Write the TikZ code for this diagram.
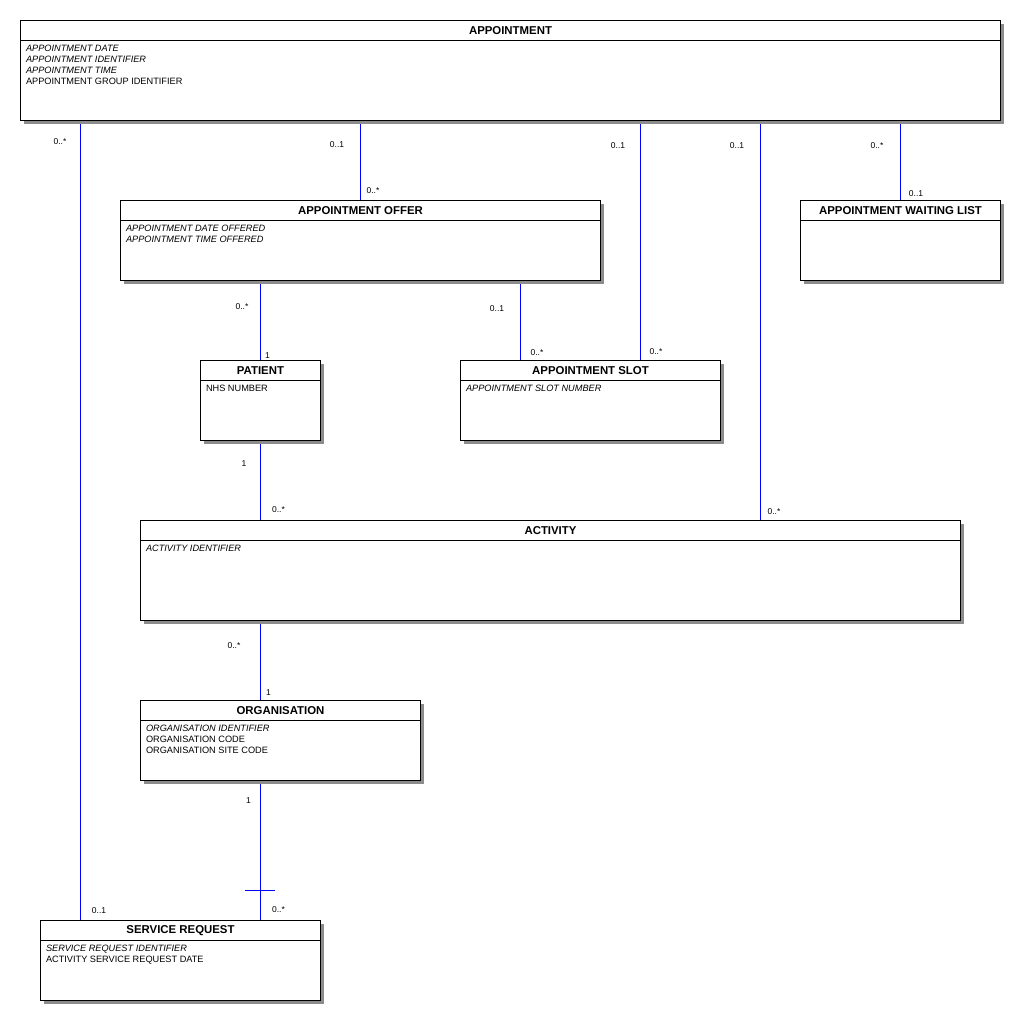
\documentclass[tikz,border=0pt]{standalone}
\usepackage{fontspec}
\setmainfont{Liberation Sans}
\usetikzlibrary{positioning,shadows,backgrounds}

\begin{document}
\begin{tikzpicture}
  [
    x=1pt,
    y=-1pt,
    line width=1pt,
    entity/.style={draw, fill=white, anchor=north west, inner sep=0pt,
      drop shadow={shadow xshift=3pt, shadow yshift=-3pt, fill=black!45, opacity=1}},
    title/.style={anchor=north, minimum height=20pt, inner sep=0pt, font=\fontsize{11.4}{13}\selectfont\bfseries},
    attr/.style={anchor=north west, inner sep=0pt, align=left, font=\fontsize{9.2}{11}\selectfont},
    mult/.style={inner sep=0pt, font=\fontsize{8.5}{10}\selectfont},
    assoc/.style={draw=blue},
  ]
  \useasboundingbox (0,0) rectangle (1020,1020);

  % entities
  \node [entity, minimum width=980pt, minimum height=100pt] (appt) at (20,20) {};
  \node [entity, minimum width=480pt, minimum height=80pt] (offer) at (120,200) {};
  \node [entity, minimum width=200pt, minimum height=80pt] (wait) at (800,200) {};
  \node [entity, minimum width=120pt, minimum height=80pt] (patient) at (200,360) {};
  \node [entity, minimum width=260pt, minimum height=80pt] (slot) at (460,360) {};
  \node [entity, minimum width=820pt, minimum height=100pt] (activity) at (140,520) {};
  \node [entity, minimum width=280pt, minimum height=80pt] (org) at (140,700) {};
  \node [entity, minimum width=280pt, minimum height=80pt] (sr) at (40,920) {};

  \foreach \e in {appt,offer,wait,patient,slot,activity,org,sr}
    \draw ([yshift=-20pt]\e.north west) -- ([yshift=-20pt]\e.north east);

  \node [title] (appt title) at (appt.north) {APPOINTMENT};
  \node [title] (offer title) at (offer.north) {APPOINTMENT OFFER};
  \node [title] (wait title) at (wait.north) {APPOINTMENT WAITING LIST};
  \node [title] (patient title) at (patient.north) {PATIENT};
  \node [title] (slot title) at (slot.north) {APPOINTMENT SLOT};
  \node [title] (activity title) at (activity.north) {ACTIVITY};
  \node [title] (org title) at (org.north) {ORGANISATION};
  \node [title] (sr title) at (sr.north) {SERVICE REQUEST};

  \node [attr] (appt attr) at ([xshift=5.5pt, yshift=-24.5pt]appt.north west)
    {\textit{APPOINTMENT DATE}\\\textit{APPOINTMENT IDENTIFIER}\\\textit{APPOINTMENT TIME}\\APPOINTMENT GROUP IDENTIFIER};
  \node [attr] (offer attr) at ([xshift=5.5pt, yshift=-24.5pt]offer.north west)
    {\textit{APPOINTMENT DATE OFFERED}\\\textit{APPOINTMENT TIME OFFERED}};
  \node [attr] (patient attr) at ([xshift=5.5pt, yshift=-24.5pt]patient.north west) {NHS NUMBER};
  \node [attr] (slot attr) at ([xshift=5.5pt, yshift=-24.5pt]slot.north west) {\textit{APPOINTMENT SLOT NUMBER}};
  \node [attr] (activity attr) at ([xshift=5.5pt, yshift=-24.5pt]activity.north west) {\textit{ACTIVITY IDENTIFIER}};
  \node [attr] (org attr) at ([xshift=5.5pt, yshift=-24.5pt]org.north west)
    {\textit{ORGANISATION IDENTIFIER}\\ORGANISATION CODE\\ORGANISATION SITE CODE};
  \node [attr] (sr attr) at ([xshift=5.5pt, yshift=-24.5pt]sr.north west)
    {\textit{SERVICE REQUEST IDENTIFIER}\\ACTIVITY SERVICE REQUEST DATE};

  % connector ends
  \coordinate (sr end a) at ([xshift=40pt]sr.north west);
  \coordinate (sr end b) at ([xshift=220pt]sr.north west);
  \coordinate (slot end a) at ([xshift=60pt]slot.north west);
  \coordinate (slot end b) at ([xshift=180pt]slot.north west);
  \coordinate (activity end a) at ([xshift=120pt]activity.north west);
  \coordinate (activity end b) at ([xshift=620pt]activity.north west);
  \coordinate (org end) at ([xshift=120pt]org.north west);

  \begin{scope}[on background layer]
    \draw [assoc] (sr end a |- appt.south) -- (sr end a);
    \draw [assoc] (offer.north |- appt.south) -- (offer.north);
    \draw [assoc] (slot end b |- appt.south) -- (slot end b);
    \draw [assoc] (activity end b |- appt.south) -- (activity end b);
    \draw [assoc] (wait.north |- appt.south) -- (wait.north);
    \draw [assoc] (patient.north |- offer.south) -- (patient.north);
    \draw [assoc] (slot end a |- offer.south) -- (slot end a);
    \draw [assoc] (activity end a |- patient.south) -- (activity end a);
    \draw [assoc] (org end |- activity.south) -- (org end);
    \draw [assoc] (sr end b |- org.south) -- (sr end b);
  \end{scope}
  \draw [assoc] ([xshift=-15pt, yshift=30pt]sr end b) -- ([xshift=15pt, yshift=30pt]sr end b);

  % multiplicities
  \node [mult] (m appt sr) at (60,141.5) {0..*};
  \node [mult] (m sr appt) at (99,911) {0..1};
  \node [mult] (m appt offer) at (337,145) {0..1};
  \node [mult] (m offer appt) at (373,191) {0..*};
  \node [mult] (m appt slot) at (618,145.5) {0..1};
  \node [mult] (m slot appt) at (656,352) {0..*};
  \node [mult] (m appt activity) at (737,146) {0..1};
  \node [mult] (m activity appt) at (774,512) {0..*};
  \node [mult] (m appt wait) at (877,145.5) {0..*};
  \node [mult] (m wait appt) at (916,193.5) {0..1};
  \node [mult] (m offer patient) at (242,306.5) {0..*};
  \node [mult] (m patient offer) at (267.5,355.5) {1};
  \node [mult] (m offer slot) at (497,309) {0..1};
  \node [mult] (m slot offer) at (537,353) {0..*};
  \node [mult] (m patient activity) at (244,464) {1};
  \node [mult] (m activity patient) at (278.5,510) {0..*};
  \node [mult] (m activity org) at (234,646) {0..*};
  \node [mult] (m org activity) at (268.5,693) {1};
  \node [mult] (m org sr) at (248.5,800.5) {1};
  \node [mult] (m sr org) at (278.5,909.5) {0..*};
\end{tikzpicture}
\end{document}
